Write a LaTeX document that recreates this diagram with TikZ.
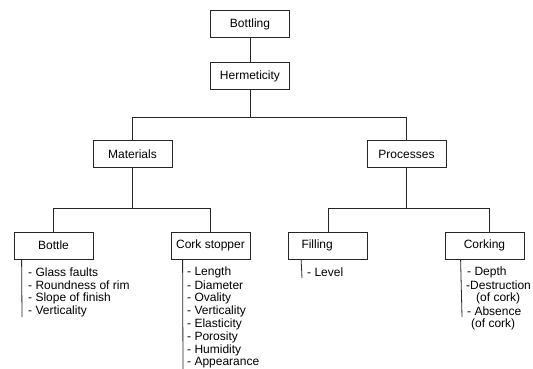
\documentclass[tikz,border=0pt]{standalone}
\usepackage{fontspec}
\setmainfont{Liberation Sans}
\begin{document}
\begin{tikzpicture}[x=1pt,y=-1pt,
  conn/.style={line width=0.8pt,draw=black!85},
  box/.style={draw=black!85,line width=0.8pt,minimum width=79pt,minimum height=27pt,inner sep=2pt,font=\fontsize{12}{14}\selectfont},
  item/.style={anchor=west,inner sep=0pt,font=\fontsize{12}{13}\selectfont}]
\useasboundingbox (0,0) rectangle (533,369);
% boxes
\node[box] (bottling) at (250,24) {Bottling};
\node[box] (herm) at (250,76) {Hermeticity};
\node[box] (mat) at (132.5,154) {Materials};
\node[box] (proc) at (406.5,154) {Processes};
\node[box] (bottle) at (53.5,245.5) {Bottle};
\node[box] (cork) at (210.5,245.5) {Cork stopper};
\node[box,text width=53pt,align=left,inner xsep=13pt] (fill) at (328,245.5) {Filling};
\node[box] (corking) at (484.5,245.5) {Corking};
% connectors
\draw[conn] (bottling.south) -- (herm.north);
\draw[conn] (herm.south) -- ++(0,27) coordinate (j1) -| (mat.north);
\draw[conn] (j1) -| (proc.north);
\draw[conn] (mat.south) -- ++(0,40) coordinate (j2) -| (bottle.north);
\draw[conn] (j2) -| (cork.north);
\draw[conn] (proc.south) -- ++(0,40) coordinate (j3) -| (fill.north);
\draw[conn] (j3) -| ([xshift=4.5pt]corking.north);
% list items
\node[item] (b1) at (28,272) {- Glass faults};
\node[item] (b2) at (28,285) {- Roundness of rim};
\node[item] (b3) at (28,298) {- Slope of finish};
\node[item] (b4) at (28,311) {- Verticality};
\node[item] (c1) at (187,272) {- Length};
\node[item] (c2) at (187,285) {- Diameter};
\node[item] (c3) at (187,298) {- Ovality};
\node[item] (c4) at (187,311) {- Verticality};
\node[item] (c5) at (187,324) {- Elasticity};
\node[item] (c6) at (187,337) {- Porosity};
\node[item] (c7) at (187,350) {- Humidity};
\node[item] (c8) at (187,363) {- Appearance};
\node[item] (f1) at (307,272) {- Level};
\node[item] (k1) at (467,272) {- Depth};
\node[item] (k2) at (466,285) {-Destruction};
\node[item] (k3) at (476,298) {(of cork)};
\node[item] (k4) at (467,311) {- Absence};
\node[item] (k5) at (471,324) {(of cork)};
% bars
\coordinate (be) at (22,317);
\coordinate (ce) at (183,369);
\coordinate (fe) at (302,278);
\coordinate (ke) at (462,317);
\draw[conn] ([xshift=8pt]bottle.south west) -- (be);
\draw[conn] ([xshift=12pt]cork.south west) -- (ce);
\draw[conn] ([xshift=13pt]fill.south west) -- (fe);
\draw[conn] ([xshift=16pt]corking.south west) -- (ke);
\end{tikzpicture}
\end{document}
